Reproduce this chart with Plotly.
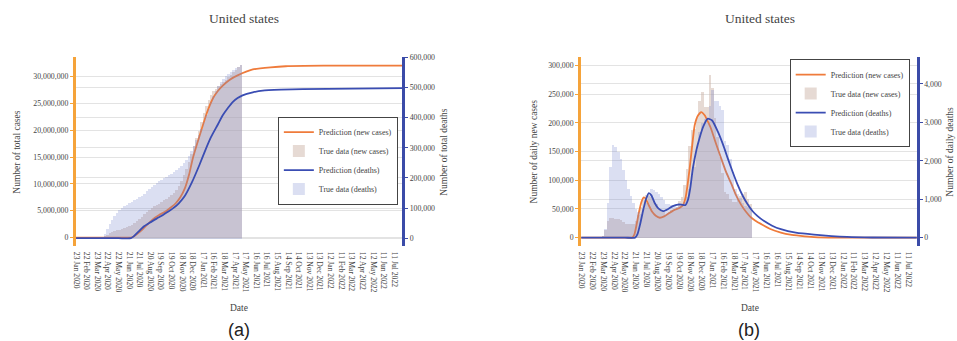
import pandas as pd
import plotly.graph_objects as go

W, H = 957, 341
SERIF = "Liberation Serif, Times New Roman, serif"
SANS = "Liberation Sans, Arial, sans-serif"

# ---------------------------------------------------------------- data
START = pd.Timestamp("2020-01-23")

TICK_LABELS = [
    "23 Jan 2020", "22 Feb 2020", "23 Mar 2020", "22 Apr 2020", "22 May 2020",
    "21 Jun 2020", "21 Jul 2020", "20 Aug 2020", "19 Sep 2020", "19 Oct 2020",
    "18 Nov 2020", "18 Dec 2020", "17 Jan 2021", "16 Feb 2021", "18 Mar 2021",
    "17 Apr 2021", "17 May 2021", "16 Jun 2021", "16 Jul 2021", "15 Aug 2021",
    "14 Sep 2021", "14 Oct 2021", "13 Nov 2021", "13 Dec 2021", "12 Jan 2022",
    "11 Feb 2022", "13 Mar 2022", "12 Apr 2022", "12 May 2022", "11 Jun 2022",
    "11 Jul 2022",
]

# observed data, one value per week starting 23 Jan 2020
N_WEEKS = 67
TRUE_TOTAL_CASES_M = [
    0, 0, 0, 0, 0, 0.0001, 0.0002, 0.0016, 0.014, 0.085,
    0.24, 0.46, 0.67, 0.87, 1.07, 1.26, 1.42, 1.58, 1.72, 1.88,
    2.03, 2.21, 2.45, 2.78, 3.16, 3.59, 4.02, 4.50, 4.90, 5.30,
    5.62, 5.91, 6.20, 6.43, 6.73, 7.04, 7.34, 7.67, 8.03, 8.47,
    9.02, 9.70, 10.60, 11.76, 12.91, 14.14, 15.60, 17.14, 18.60, 19.97,
    21.60, 23.27, 24.60, 25.70, 26.60, 27.30, 27.80, 28.27, 28.70, 29.10,
    29.50, 29.90, 30.40, 30.85, 31.35, 31.80, 32.20,
]
TRUE_TOTAL_DEATHS_K = [
    0, 0, 0, 0, 0, 0, 0.011, 0.04, 0.2, 1.3,
    6, 17, 33, 48, 62, 75, 85, 94, 101, 107,
    112, 117, 122, 127, 132, 137, 143, 150, 158, 165,
    172, 179, 185, 190, 196, 201, 206, 211, 216, 221,
    227, 234, 242, 251, 261, 275, 291, 309, 326, 343,
    365, 388, 410, 432, 454, 475, 491, 508, 521, 531,
    539, 547, 553, 559, 565, 570, 575,
]
TRUE_DAILY_CASES_K = [
    0, 0, 0, 0, 0, 0, 0.05, 0.4, 3, 14,
    29, 35, 35, 34, 33, 31, 28, 25, 24, 25,
    25, 29, 40, 55, 67, 75, 75, 71, 64, 59,
    51, 48, 47, 40, 46, 49, 49, 55, 64, 72,
    92, 120, 160, 188, 190, 210, 240, 255, 228, 228,
    285, 262, 210, 176, 142, 114, 80, 77, 68, 63,
    63, 68, 74, 77, 80, 68, 59,
]
TRUE_DAILY_DEATHS = [
    0, 0, 0, 0, 0, 0, 2, 8, 50, 230,
    920, 1840, 2420, 2360, 2240, 2070, 1780, 1500, 1270, 1090,
    920, 750, 690, 640, 750, 920, 1090, 1270, 1240, 1210,
    1150, 1060, 980, 900, 900, 870, 830, 800, 830, 890,
    940, 1080, 1270, 1610, 1840, 2300, 2760, 2990, 3100, 2990,
    3450, 3850, 3570, 3570, 3450, 3340, 2530, 2420, 2070, 1730,
    1270, 1150, 1040, 920, 830, 800, 780,
]

# model output, sampled at day offsets from 23 Jan 2020
PRED_TOTAL_CASES_DAY = [0, 120, 155, 163, 175, 189, 203, 217, 235, 254, 268, 282, 295,
                        308, 320, 330, 342, 353, 370, 387, 400, 415, 435, 457, 500,
                        550, 593, 700, 923]
PRED_TOTAL_CASES_M = [0, 0, 0, 0.2, 0.8, 1.6, 2.5, 3.4, 4.2, 4.9, 5.6, 6.4, 7.5,
                      9.2, 11.8, 14.7, 17.4, 19.7, 23.2, 25.9, 27.2, 28.3, 29.4, 30.2, 31.3,
                      31.7, 31.9, 32.0, 32.0]

PRED_TOTAL_DEATHS_DAY = [0, 120, 155, 163, 175, 190, 208, 228, 246, 260, 274, 290, 307,
                         328, 349, 365, 382, 400, 415, 430, 443, 457, 471, 500, 528,
                         580, 641, 923]
PRED_TOTAL_DEATHS_K = [0, 0, 0, 6, 20, 37, 51, 65, 77, 88, 99, 115, 139,
                       186, 243, 290, 336, 375, 408, 433, 452, 465, 474, 484, 490,
                       493, 495, 498]

PRED_DAILY_CASES_DAY = [0, 120, 140, 146, 152, 159, 166, 172, 178, 186, 195, 205, 216,
                        228, 240, 255, 271, 280, 287, 293, 298, 305, 312, 321, 330, 340,
                        350, 357, 370, 385, 398, 412, 425, 439, 453, 467, 480, 494, 520,
                        549, 575, 603, 640, 700, 923]
PRED_DAILY_CASES_K = [0, 0, 0, 5, 22, 45, 63, 70, 67, 56, 45, 38, 34.6,
                      37, 42, 48, 52, 57, 70, 95, 120, 160, 196, 213, 219, 213,
                      200, 190, 165, 138, 115, 95, 75, 58, 45, 35, 29, 24, 15,
                      8.7, 5, 3, 1, 0, 0]

PRED_DAILY_DEATHS_DAY = [0, 120, 148, 155, 162, 170, 178, 186, 193, 202, 212, 225, 238,
                         252, 266, 276, 286, 294, 300, 307, 316, 325, 336, 348, 360, 376,
                         390, 403, 416, 430, 444, 458, 472, 485, 503, 525, 549, 590, 640,
                         731, 800, 923]
PRED_DAILY_DEATHS = [0, 0, 0, 100, 350, 700, 1000, 1161, 1100, 900, 760, 689, 740,
                     820, 861, 858, 844, 1000, 1300, 1806, 2250, 2580, 2900, 3096, 3050, 2753,
                     2420, 2064, 1720, 1378, 1090, 862, 680, 560, 430, 310, 220, 130, 80,
                     20, 3, 0]

# ---------------------------------------------------------------- styling
C_CASE_LINE = "#ef7b3b"
C_DEATH_LINE = "#3a4db3"
C_CASE_AXIS = "#f5a33a"
C_DEATH_AXIS = "#3b4ba8"
C_CASE_BAR = "rgba(200,172,160,0.45)"
C_DEATH_BAR = "rgba(112,126,204,0.25)"
GRID = "#e3e3e3"
TXT = "#444444"


def days_to_dates(days):
    return START + pd.to_timedelta(days, unit="D")


week_dates = pd.date_range(START, periods=N_WEEKS, freq="7D")
week_ms = 7 * 24 * 3600 * 1000
tick_vals = pd.to_datetime(TICK_LABELS, format="%d %b %Y")


def px_x(x):
    return x / W


def px_y(y):
    return 1 - y / H


fig = go.Figure()


def add_line(days, values, color, name, xa, ya, leg):
    fig.add_trace(go.Scatter(
        x=days_to_dates(days), y=values, mode="lines",
        line=dict(color=color, width=1.8, shape="spline", smoothing=0.5),
        name=name, xaxis=xa, yaxis=ya, legend=leg))


def add_bars(values, color, name, xa, ya, leg):
    fig.add_trace(go.Bar(
        x=week_dates, y=values, width=week_ms, offset=0,
        marker=dict(color=color, line=dict(width=0)),
        name=name, xaxis=xa, yaxis=ya, legend=leg))


# ---- panel (a): cumulative totals
add_line(PRED_TOTAL_CASES_DAY, [v * 1e6 for v in PRED_TOTAL_CASES_M], C_CASE_LINE,
         "Prediction (new cases)", "x", "y", "legend")
add_bars([v * 1e6 for v in TRUE_TOTAL_CASES_M], C_CASE_BAR,
         "True data (new cases)", "x", "y", "legend")
add_line(PRED_TOTAL_DEATHS_DAY, [v * 1e3 for v in PRED_TOTAL_DEATHS_K], C_DEATH_LINE,
         "Prediction (deaths)", "x", "y2", "legend")
add_bars([v * 1e3 for v in TRUE_TOTAL_DEATHS_K], C_DEATH_BAR,
         "True data (deaths)", "x", "y2", "legend")

# ---- panel (b): daily values
add_line(PRED_DAILY_CASES_DAY, [v * 1e3 for v in PRED_DAILY_CASES_K], C_CASE_LINE,
         "Prediction (new cases)", "x2", "y3", "legend2")
add_bars([v * 1e3 for v in TRUE_DAILY_CASES_K], C_CASE_BAR,
         "True data (new cases)", "x2", "y3", "legend2")
add_line(PRED_DAILY_DEATHS_DAY, PRED_DAILY_DEATHS, C_DEATH_LINE,
         "Prediction (deaths)", "x2", "y4", "legend2")
add_bars(TRUE_DAILY_DEATHS, C_DEATH_BAR,
         "True data (deaths)", "x2", "y4", "legend2")

# ---------------------------------------------------------------- axes
y_dom = [px_y(245), px_y(54)]
x_range = [START - pd.Timedelta(days=1), START + pd.Timedelta(days=923)]

xaxis_common = dict(
    type="date", range=x_range, tickmode="array", tickvals=tick_vals, ticktext=TICK_LABELS,
    tickangle=90, tickfont=dict(family=SERIF, size=7.6, color=TXT),
    showgrid=False, showline=False, zeroline=False, ticks="", ticklabelstandoff=5,
)


def yaxis_common(color, side, rng, dtick, anchor, overlaying=None):
    d = dict(
        domain=y_dom, range=rng, dtick=dtick, tick0=0, tickformat=",d",
        showline=True, linecolor=color, linewidth=2.5, mirror=False,
        showgrid=True, gridcolor=GRID, gridwidth=1, zeroline=False,
        ticks="outside", ticklen=3, tickwidth=1, tickcolor=color,
        tickfont=dict(family=SERIF, size=7.8, color=TXT),
        side=side, anchor=anchor,
    )
    if overlaying:
        d["overlaying"] = overlaying
    return d


legend_style = dict(
    xanchor="left", yanchor="middle",
    bgcolor="white", bordercolor=TXT, borderwidth=1,
    font=dict(family=SERIF, size=8, color=TXT), tracegroupgap=0,
)

fig.update_layout(
    width=W, height=H, autosize=False,
    margin=dict(l=0, r=0, t=0, b=0, pad=0),
    paper_bgcolor="white", plot_bgcolor="white",
    barmode="overlay", bargap=0,
    font=dict(family=SERIF, size=8, color=TXT),
    xaxis=dict(domain=[px_x(72), px_x(400)], anchor="y", **xaxis_common),
    xaxis2=dict(domain=[px_x(579.3), px_x(916.7)], anchor="y3", **xaxis_common),
    yaxis=yaxis_common(C_CASE_AXIS, "left", [-1.53e6, 33.71e6], 5e6, "x"),
    yaxis2=yaxis_common(C_DEATH_AXIS, "right", [-25.3e3, 603e3], 1e5, "x", overlaying="y"),
    yaxis3=yaxis_common(C_CASE_AXIS, "left", [-14.4e3, 316e3], 5e4, "x2"),
    yaxis4=yaxis_common(C_DEATH_AXIS, "right", [-214, 4715], 1000, "x2", overlaying="y3"),
    legend=dict(x=px_x(275), y=px_y(159), **legend_style),
    legend2=dict(x=px_x(789), y=px_y(101), **legend_style),
    showlegend=True,
)


# ---------------------------------------------------------------- text
def note(text, x, y, size, angle=0, family=SERIF, color=TXT):
    fig.add_annotation(
        text=text, x=px_x(x), y=px_y(y), xref="paper", yref="paper",
        xanchor="center", yanchor="middle", showarrow=False, textangle=angle,
        font=dict(family=family, size=size, color=color),
    )


note("United states", 241, 16, 13.5)
note("United states", 759, 16, 13.5)
note("Number of total cases", 13, 150, 9.5, angle=-90)
note("Number of total deaths", 442, 150, 9.5, angle=-90)
note("Number of daily new cases", 532, 150, 9.5, angle=-90)
note("Number of daily deaths", 950, 150, 9.5, angle=-90)
note("Date", 236, 308, 9.5)
note("Date", 749, 308, 9.5)
note("(a)", 236, 330, 18, family=SANS, color="#222222")
note("(b)", 748, 330, 18, family=SANS, color="#222222")

fig.write_html("out.html")
